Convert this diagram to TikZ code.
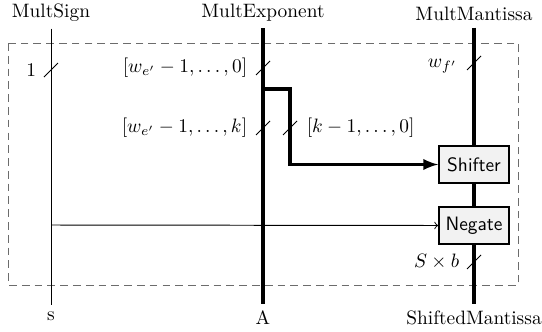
\documentclass[tikz,border=0pt]{standalone}
\usepackage{amsmath,amssymb}
\usepackage{tikz}
\usepackage{xcolor}
\usetikzlibrary{arrows,positioning,calc}

\begin{document}
\begin{tikzpicture}[x=0.516pt,y=-0.516pt,
    unit/.style={draw,line width=1pt,fill=gray!10,font=\sffamily,minimum width=36pt,minimum height=19pt,inner sep=2pt},
    bus/.style={line width=1.6pt},
    widebus/.style={line width=2.1pt},
    wire/.style={line width=0.5pt},
    frame/.style={dash pattern=on 4pt off 2.6pt,gray!85!black,line width=0.5pt}]
    \useasboundingbox (0,0) rectangle (542,331);
    \draw[frame] (8,43) rectangle (518,285);
    % ports
    \node (sign) at (51,13) {MultSign};
    \node (expo) at (263,13) {MultExponent};
    \node (mant) at (474,14) {MultMantissa};
    \node (s) at (51,316) {s};
    \node (a) at (263,318) {A};
    \node (shm) at (474,318) {ShiftedMantissa};
    % units
    \node[unit] (shifter) at (474,164.5) {Shifter};
    \node[unit] (negate) at (474,225.5) {Negate};
    % wires
    \draw[wire] (sign.south) -- (s.north);
    \draw[bus] (expo.south) -- (a.north);
    \draw[widebus] (mant.south) -- (shifter.north);
    \draw[widebus] (shifter.south) -- (negate.north);
    \draw[widebus] (negate.south) -- (shm.north);
    \coordinate (br) at (263,89);
    \coordinate (bend) at (290,89);
    \draw[bus,-latex] (br) -- (bend) |- (shifter.west);
    \coordinate (tap) at (51,225);
    \draw[wire,->] (tap) -- (negate.west);
    % bus widths
    \foreach \p in {(51,70),(263,68),(263,128),(290,128),(474,63),(474,262)}
        \draw[thin] \p ++(-7,7) -- ++(14,-14);
    \node[left] (wsign) at (43,70) {$1$};
    \node[left] (wexpo) at (254,68) {$[w_{e'}-1,\dots,0]$};
    \node[left] (whigh) at (254,128) {$[w_{e'}-1,\dots,k]$};
    \node[right] (wlow) at (300,128) {$[k-1,\dots,0]$};
    \node[left] (wmant) at (464,66) {$w_{f'}$};
    \node[left] (wout) at (466,262) {$S\times b$};
\end{tikzpicture}
\end{document}
